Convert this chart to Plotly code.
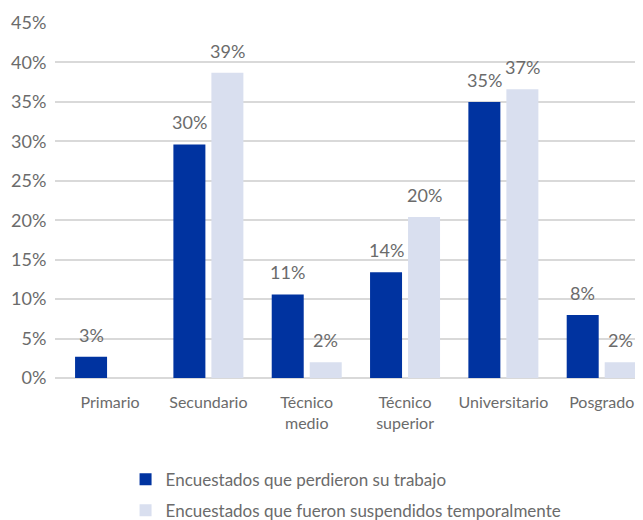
import plotly.graph_objects as go

categories = ["Primario", "Secundario", "Técnico<br>medio", "Técnico<br>superior", "Universitario", "Posgrado"]
perdieron = [2.7, 29.6, 10.6, 13.4, 35.0, 8.0]
suspendidos = [None, 38.7, 2.0, 20.4, 36.6, 2.0]
perdieron_labels = ["3%", "30%", "11%", "14%", "35%", "8%"]
suspendidos_labels = ["", "39%", "2%", "20%", "37%", "2%"]
y_ticks = [0, 5, 10, 15, 20, 25, 30, 35, 40, 45]

DARK = "#0033A0"
LIGHT = "#D9DFEF"
TEXT = "#6b6b6b"
FONT = "Lato"

fig = go.Figure()
fig.add_trace(go.Bar(x=categories, y=perdieron, name="Encuestados que perdieron su trabajo",
                     marker=dict(color=DARK, line=dict(width=0)), legendgroup="a"))
fig.add_trace(go.Bar(x=categories, y=suspendidos, name="Encuestados que fueron suspendidos temporalmente",
                     marker=dict(color=LIGHT, line=dict(width=0)), legendgroup="b"))

annotations = []
off = 0.193
for i, (v, t) in enumerate(zip(perdieron, perdieron_labels)):
    if v is not None and t:
        annotations.append(dict(x=i - off, y=v, text=t, showarrow=False, yanchor="middle",
                                yshift=22, font=dict(size=18, color=TEXT, family=FONT)))
for i, (v, t) in enumerate(zip(suspendidos, suspendidos_labels)):
    if v is not None and t:
        annotations.append(dict(x=i + off, y=v, text=t, showarrow=False, yanchor="middle",
                                yshift=22, font=dict(size=18, color=TEXT, family=FONT)))

# page body has an 8px margin, so the figure is sized to fit the window
fig.update_layout(
    width=635, height=512,
    margin=dict(l=47, r=0, t=15, b=142, autoexpand=False),
    paper_bgcolor="white", plot_bgcolor="white",
    barmode="group", bargap=0.227, bargroupgap=0.158,
    font=dict(family=FONT, color=TEXT),
    annotations=annotations,
    legend=dict(x=0.12, y=0.114, xanchor="left", yanchor="top", yref="container",
                orientation="v",
                font=dict(size=17, color=TEXT, family=FONT), tracegroupgap=6,
                bgcolor="rgba(0,0,0,0)"),
    showlegend=True,
)
fig.update_xaxes(range=[-0.56, 5.42], showgrid=False, showline=False, zeroline=False,
                 automargin=False,
                 ticks="outside", ticklen=10, tickcolor="rgba(0,0,0,0)",
                 tickfont=dict(size=16, color=TEXT, family=FONT))
fig.update_yaxes(range=[0, 45], tickvals=y_ticks, ticktext=[f"{v}%" for v in y_ticks],
                 automargin=False,
                 showgrid=True, gridcolor="#D9D9D9", gridwidth=1.5,
                 zeroline=True, zerolinecolor="#D9D9D9", zerolinewidth=1.5,
                 showline=False, ticks="outside", ticklen=4, tickcolor="rgba(0,0,0,0)",
                 tickfont=dict(size=18, color=TEXT, family=FONT))

fig.write_html("out.html")
